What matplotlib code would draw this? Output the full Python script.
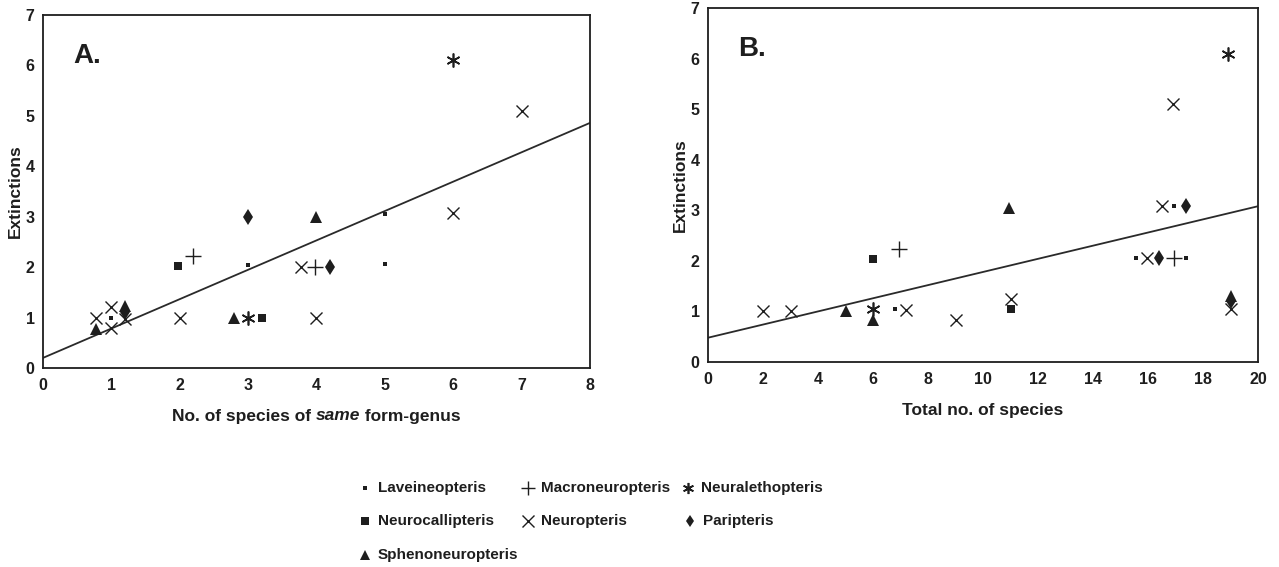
import matplotlib
matplotlib.use("Agg")
import matplotlib.pyplot as plt
from matplotlib.lines import Line2D
from matplotlib.transforms import offset_copy

plt.rcParams['font.family'] = ['Liberation Sans', 'DejaVu Sans']

# genera in legend order
genera = ["Laveineopteris", "Neurocallipteris", "Sphenoneuropteris",
          "Macroneuropteris", "Neuropteris", "Neuralethopteris", "Paripteris"]

# panel A: no. of species of same form-genus vs extinctions
a_lav_x = [1.0, 3.0, 5.0, 5.0]
a_lav_y = [1.0, 2.04, 3.06, 2.06]
a_ncal_x = [1.98, 3.2]
a_ncal_y = [2.02, 1.0]
a_macro_x = [2.2, 3.98]
a_macro_y = [2.22, 2.0]
a_nleth_x = [6.0, 3.0]
a_nleth_y = [6.1, 1.0]
a_neur_x = [0.78, 1.0, 1.0, 1.2, 2.0, 3.78, 4.0, 6.0, 7.0]
a_neur_y = [1.0, 1.2, 0.8, 0.97, 1.0, 2.0, 1.0, 3.07, 5.1]
a_pari_x = [3.0, 4.2, 1.2]
a_pari_y = [3.0, 2.0, 1.12]
a_sphen_x = [0.78, 1.2, 2.8, 4.0]
a_sphen_y = [0.78, 1.22, 1.0, 3.0]
a_fit_x = [0, 8]
a_fit_y = [0.2, 4.86]

# panel B: total no. of species vs extinctions
b_lav_x = [6.8, 16.95, 15.55, 17.38]
b_lav_y = [1.04, 3.08, 2.05, 2.05]
b_ncal_x = [6.0, 11.0]
b_ncal_y = [2.03, 1.05]
b_macro_x = [6.95, 16.95]
b_macro_y = [2.24, 2.05]
b_nleth_x = [6.0, 18.9]
b_nleth_y = [1.04, 6.1]
b_neur_x = [2.0, 3.0, 7.2, 9.0, 11.0, 16.5, 16.9, 15.98, 19.0]
b_neur_y = [1.0, 1.0, 1.03, 0.83, 1.25, 3.08, 5.1, 2.05, 1.05]
b_pari_x = [17.38, 16.4, 19.0]
b_pari_y = [3.08, 2.05, 1.2]
b_sphen_x = [5.0, 6.0, 10.95, 19.0]
b_sphen_y = [1.0, 0.83, 3.05, 1.3]
b_fit_x = [0, 20]
b_fit_y = [0.48, 3.08]

ink = "#1e1e1e"
styles = {
    "Laveineopteris": dict(marker="s", ms=3, mew=0),
    "Neurocallipteris": dict(marker="s", ms=6, mew=0),
    "Sphenoneuropteris": dict(marker="^", ms=8.5, mew=0),
    "Macroneuropteris": dict(marker="+", ms=12, mew=1.0),
    "Neuropteris": dict(marker="x", ms=9, mew=1.0),
    "Neuralethopteris": dict(marker=(6, 2, 0), ms=10, mew=1.2),
    "Paripteris": dict(marker="d", ms=8.5, mew=0),
}


def draw_panel(ax, pts, fit_x, fit_y, xmax, xticks, tag):
    ax.plot(fit_x, fit_y, color="#2a2a2a", lw=1.3, zorder=1)
    for name, (xs, ys) in pts.items():
        ax.plot(xs, ys, ls="none", color=ink, zorder=3, **styles[name])
    ax.set_xlim(0, xmax)
    ax.set_ylim(0, 7)
    ax.set_xticks(xticks)
    ax.set_yticks(range(8))
    ax.tick_params(length=0, labelsize=11.5, colors=ink, pad=7)
    ax.tick_params(axis="y", pad=6)
    for lab in ax.get_xticklabels() + ax.get_yticklabels():
        lab.set_fontweight("bold")
    for s in ax.spines.values():
        s.set_linewidth(1.3)
        s.set_color(ink)
    ax.set_ylabel("Extinctions", fontsize=12.5, fontweight="bold", color=ink, labelpad=2)
    ax.text(0.055, 0.885, tag, transform=ax.transAxes, fontsize=20,
            fontweight="bold", color=ink, va="center")


fig = plt.figure(figsize=(12.79, 5.67), dpi=100)
axA = fig.add_axes([0.0336, 0.351, 0.4277, 0.6226])
axB = fig.add_axes([0.5536, 0.3616, 0.430, 0.6243])

pts_a = {
    "Laveineopteris": (a_lav_x, a_lav_y),
    "Neurocallipteris": (a_ncal_x, a_ncal_y),
    "Macroneuropteris": (a_macro_x, a_macro_y),
    "Neuralethopteris": (a_nleth_x, a_nleth_y),
    "Neuropteris": (a_neur_x, a_neur_y),
    "Paripteris": (a_pari_x, a_pari_y),
    "Sphenoneuropteris": (a_sphen_x, a_sphen_y),
}
pts_b = {
    "Laveineopteris": (b_lav_x, b_lav_y),
    "Neurocallipteris": (b_ncal_x, b_ncal_y),
    "Macroneuropteris": (b_macro_x, b_macro_y),
    "Neuralethopteris": (b_nleth_x, b_nleth_y),
    "Neuropteris": (b_neur_x, b_neur_y),
    "Paripteris": (b_pari_x, b_pari_y),
    "Sphenoneuropteris": (b_sphen_x, b_sphen_y),
}

draw_panel(axA, pts_a, a_fit_x, a_fit_y, 8, range(9), "A.")
draw_panel(axB, pts_b, b_fit_x, b_fit_y, 20, range(0, 21, 2), "B.")
axB.set_xlabel("Total no. of species", fontsize=12.5, fontweight="bold",
               color=ink, labelpad=12)

# x label of panel A has an italic word in it, so chain three texts
renderer = fig.canvas.get_renderer()
parts = [("No. of species of ", "normal"), ("same", "italic"), (" form-genus", "normal")]
widths = []
for txt, style in parts:
    t = fig.text(0, 0, txt, fontsize=12.5, fontweight="bold", fontstyle=style)
    widths.append(t.get_window_extent(renderer).width)
    t.remove()
x0 = (43 + 590) / 2 - sum(widths) / 2
xpix = x0
for (txt, style), w in zip(parts, widths):
    fig.text(xpix / 1279, 1 - 416 / 567, txt, fontsize=12.5, fontweight="bold",
             fontstyle=style, color=ink, ha="left", va="center")
    xpix += w

# legend, laid out by hand like the original
leg_pos = {
    "Laveineopteris": (365, 488), "Neurocallipteris": (365, 521),
    "Sphenoneuropteris": (365, 555), "Macroneuropteris": (528, 488),
    "Neuropteris": (528, 521), "Neuralethopteris": (688, 488),
    "Paripteris": (690, 521),
}
leg_ms = {"Laveineopteris": 2.5, "Neurocallipteris": 5.5, "Sphenoneuropteris": 6.5,
          "Macroneuropteris": 10, "Neuropteris": 8, "Neuralethopteris": 8,
          "Paripteris": 6}
W, H = 1279, 567
for name in genera:
    px, py = leg_pos[name]
    st = dict(styles[name])
    st["ms"] = leg_ms[name]
    fig.add_artist(Line2D([px / W], [1 - py / H], ls="none", color=ink,
                          transform=fig.transFigure, **st))
    fig.text((px + 13) / W, 1 - py / H, name, fontsize=11, fontweight="bold",
             color=ink, va="center", ha="left")

fig.savefig("out.png", dpi=100, facecolor="white")
